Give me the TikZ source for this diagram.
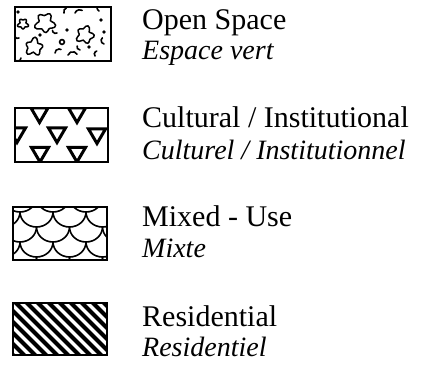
\documentclass[tikz,border=0pt]{standalone}
\usepackage{fontspec}
\setmainfont{Liberation Serif}
\tikzset{
  legbox/.style={draw=black, line width=2pt},
  lbl/.style={anchor=base west, inner sep=0pt, font=\fontsize{30}{32}\selectfont},
  lblit/.style={lbl, font=\fontsize{28}{32}\selectfont\itshape},
  tri/.style={draw=black, line width=3pt, line join=miter},
  fishscale/.style={draw=black, line width=1.6pt},
  stripe/.style={draw=black, line width=4pt},
  blob/.style={draw=black, line width=1.5pt},
  spot/.style={draw=black, line width=1.6pt, line cap=round}
}
\newcommand\mytri[2]{\draw[tri] (#1-8.5,#2) -- (#1+8.5,#2) -- (#1,#2+14.5) -- cycle;}
% blob: centre x, centre y, radius, phase
\newcommand\myblob[4]{\draw[blob] plot[smooth cycle, samples=30, domain=0:348]
  ({#1+#3*(1+0.22*sin(5*\x+#4)+0.1*sin(3*\x))*cos(\x)}, {#2+#3*(1+0.22*sin(5*\x+#4)+0.1*sin(3*\x))*sin(\x)});}
\begin{document}
\begin{tikzpicture}[x=1pt, y=-1pt]
\useasboundingbox (0,0) rectangle (429,366);

% ---------- Open space ----------
\begin{scope}
\clip (15,7) rectangle (111,61);
\myblob{45}{23}{8.5}{20}
\myblob{85}{35}{7.5}{80}
\myblob{34}{47}{7.5}{140}
\myblob{23}{24}{4.5}{0}
\draw[spot] (64,13) arc (160:250:4);
\draw[spot] (75,13) arc (200:300:5);
\draw[spot] (99,11) arc (120:220:4);
\draw[spot] (101,20) circle (0.7);
\draw[spot] (67,30) circle (0.7);
\draw[spot] (40,35) circle (0.7);
\draw[spot] (62,42) circle (2.4);
\draw[spot] (55,53) arc (180:300:4);
\draw[spot] (68,55) arc (200:330:5);
\draw[spot] (80,50) arc (90:200:3);
\draw[spot] (95,56) arc (140:260:3);
\draw[spot] (104,44) arc (100:230:3.5);
\draw[spot] (89,47) circle (0.7);
\draw[spot] (21,58) arc (0:120:3);
\draw[spot] (104,32) circle (0.7);
\draw[spot] (57,33) arc (60:180:3);
\draw[spot] (19,38) arc (60:200:3);
\draw[spot] (18,12) circle (0.7);
\end{scope}
\draw[legbox] (15,7) rectangle (111,61);

% ---------- Cultural / Institutional ----------
\begin{scope}
\clip (15,108) rectangle (108,162);
\mytri{39.5}{108}
\mytri{77}{108}
\mytri{17}{128}
\mytri{57}{128}
\mytri{97}{129}
\mytri{40}{147.5}
\mytri{77}{147.5}
\end{scope}
\draw[legbox] (15,108) rectangle (108,162);

% ---------- Mixed use ----------
\begin{scope}
\clip (13,207) rectangle (107,260);
\foreach \k in {-1,0,1,2,3,4}{
  \foreach \i in {-1,0,1,2,3}{
    \pgfmathsetmacro\cy{212+15*\k}
    \pgfmathsetmacro\cx{20+33*\i+mod(\k+2,2)*16.5}
    \draw[fishscale] (\cx,\cy) arc[start angle=180, end angle=0, x radius=16.5, y radius=15];
  }
}
\end{scope}
\draw[legbox] (13,207) rectangle (107,260);

% ---------- Residential ----------
\begin{scope}
\clip (13,303) rectangle (107,355);
\foreach \s in {-64,-53,...,120}{
  \draw[stripe] (\s,300) -- (\s+60,360);
}
\end{scope}
\draw[legbox] (13,303) rectangle (107,355);

% ---------- Labels ----------
\node[lbl]   (t1)  at (142,30)  {Open Space};
\node[lblit] (t1f) at (142,60)  {Espace vert};
\node[lbl]   (t2)  at (142,128) {Cultural / Institutional};
\node[lblit] (t2f) at (142,160) {Culturel / Institutionnel};
\node[lbl]   (t3)  at (142,227) {Mixed - Use};
\node[lblit] (t3f) at (142,258) {Mixte};
\node[lbl]   (t4)  at (142,327) {Residential};
\node[lblit] (t4f) at (142,357) {Residentiel};
\end{tikzpicture}
\end{document}
